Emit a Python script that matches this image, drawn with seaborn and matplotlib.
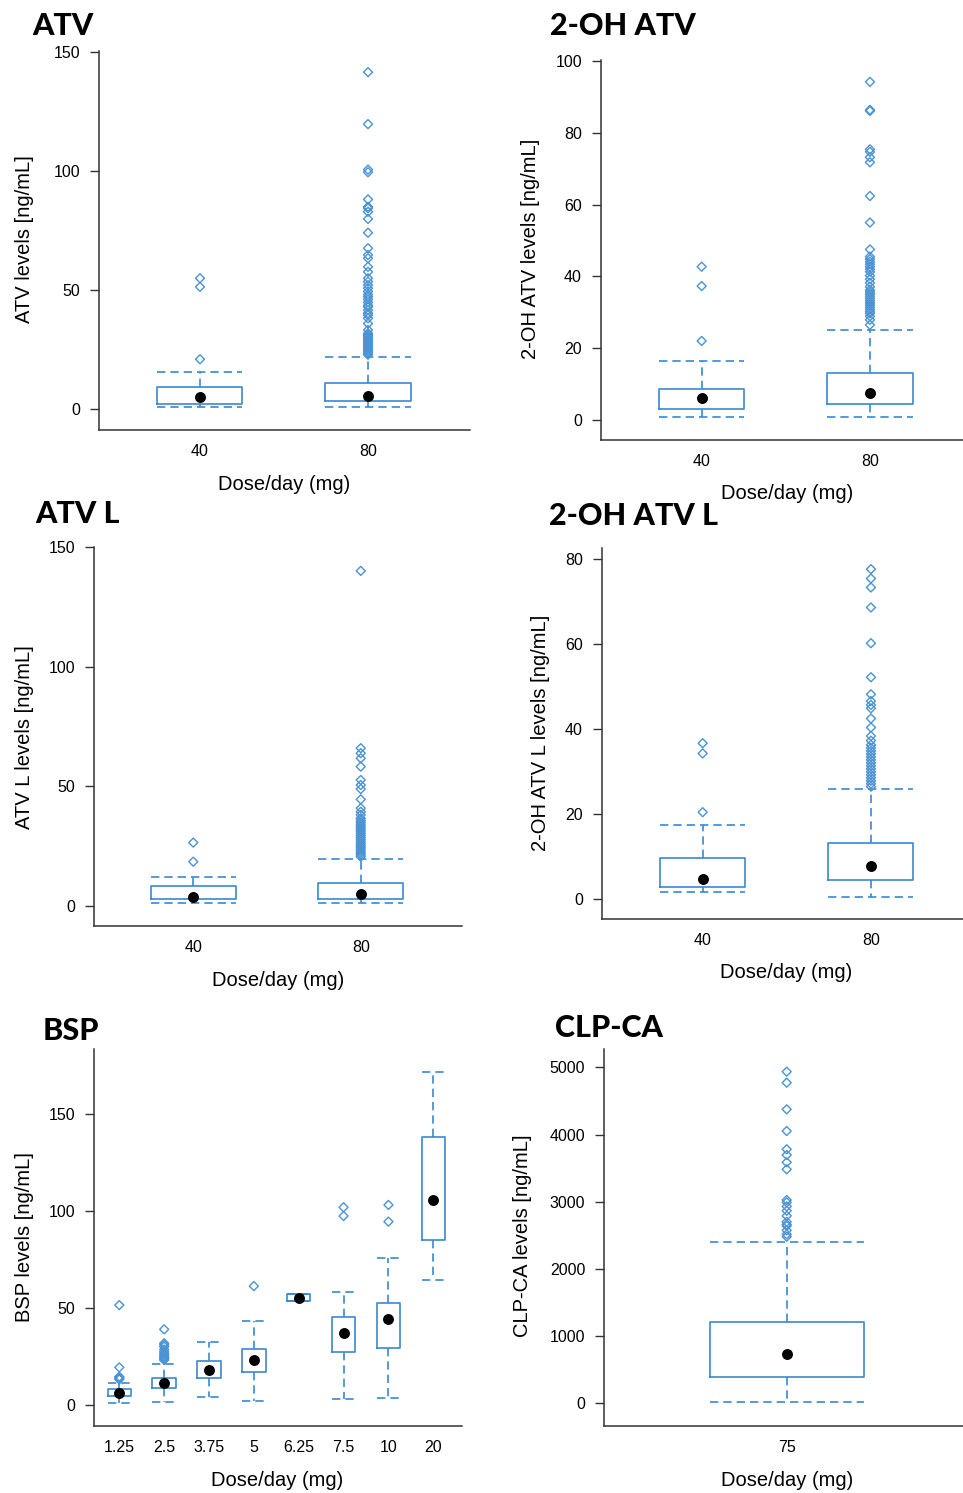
import numpy as np
import pandas as pd
import matplotlib
matplotlib.use('Agg')
import matplotlib.pyplot as plt
import seaborn as sns

W, H = 963, 1493
BOX_C = '#3a89cf'
OUT_C = '#4a93d4'
DASH = (0, (5, 3))

# ---- ATV ----
atv_doses = ['40', '80']
atv_q1 = [2.1, 3.4]
atv_med = [5.2, 5.6]
atv_q3 = [9.1, 10.8]
atv_lo = [0.7, 0.7]
atv_hi = [15.7, 22.0]
atv_out_40 = [20.9, 51.3, 54.9]
atv_out_80 = [141.4, 119.6, 100.5, 99.4, 88.0, 84.9, 84.3, 82.8, 79.8, 74.0, 67.5, 64.7,
              63.3, 59.7, 57.6, 54.9, 53.5, 52.0, 50.7, 49.3, 48.0, 47.1, 46.0, 44.8, 43.5,
              42.9, 41.5, 40.2, 39.4, 38.1, 35.9, 33.2, 31.8, 31.2, 30.6, 30.0, 29.4, 28.8,
              28.2, 27.6, 27.0, 26.4, 25.8, 25.2, 24.6, 24.0, 23.4, 22.8]

# ---- 2-OH ATV ----
ohatv_doses = ['40', '80']
ohatv_q1 = [3.0, 4.4]
ohatv_med = [6.2, 7.6]
ohatv_q3 = [8.6, 13.0]
ohatv_lo = [0.9, 0.75]
ohatv_hi = [16.4, 25.1]
ohatv_out_40 = [22.0, 37.3, 42.7]
ohatv_out_80 = [94.2, 86.4, 86.1, 75.4, 74.7, 73.2, 71.8, 62.4, 55.0, 47.5, 45.5, 44.8, 44.1,
                43.4, 42.7, 42.0, 41.3, 40.2, 39.2, 38.2, 37.1, 36.2, 35.6, 35.0, 34.4, 33.8,
                33.2, 32.6, 32.0, 31.4, 30.8, 30.2, 29.7, 28.9, 27.9, 26.5]

# ---- ATV L ----
atvl_doses = ['40', '80']
atvl_q1 = [2.8, 2.8]
atvl_med = [3.9, 5.0]
atvl_q3 = [8.5, 9.5]
atvl_lo = [1.1, 1.1]
atvl_hi = [12.3, 19.7]
atvl_out_40 = [18.5, 26.5]
atvl_out_80 = [140.2, 66.0, 63.9, 61.8, 58.3, 52.7, 50.6, 48.9, 44.6, 40.9, 39.4, 38.1, 36.7,
               35.8, 35.0, 34.2, 33.4, 32.6, 31.8, 31.0, 30.2, 29.4, 28.6, 27.8, 27.0, 26.2,
               25.4, 24.6, 23.8, 23.0, 22.2, 21.4, 20.6]

# ---- 2-OH ATV L ----
ohatvl_doses = ['40', '80']
ohatvl_q1 = [3.0, 4.5]
ohatvl_med = [4.9, 7.8]
ohatvl_q3 = [9.8, 13.3]
ohatvl_lo = [1.8, 0.6]
ohatvl_hi = [17.4, 25.9]
ohatvl_out_40 = [20.5, 34.3, 36.7]
ohatvl_out_80 = [77.6, 75.4, 73.3, 68.6, 60.2, 52.2, 48.2, 46.6, 45.7, 44.9, 42.5, 40.4, 38.4,
                 37.3, 36.3, 35.6, 34.9, 34.2, 33.5, 32.8, 32.1, 31.4, 30.7, 30.0, 29.3, 28.6,
                 27.9, 27.2, 26.5]

# ---- BSP ----
bsp_doses = ['1.25', '2.5', '3.75', '5', '6.25', '7.5', '10', '20']
bsp_q1 = [4.6, 8.6, 13.7, 17.2, 53.8, 27.5, 29.5, 85.1]
bsp_med = [6.4, 11.5, 18.0, 23.2, 55.3, 37.0, 44.2, 105.7]
bsp_q3 = [8.2, 13.7, 22.8, 28.7, 57.0, 45.2, 52.4, 138.0]
bsp_lo = [0.9, 1.4, 4.0, 2.1, 53.8, 2.9, 3.4, 64.4]
bsp_hi = [11.5, 21.1, 32.6, 43.3, 57.0, 58.4, 75.9, 171.5]
bsp_out = [[13.2, 13.7, 14.2, 14.6, 19.4, 51.5],
           [23.2, 23.8, 24.4, 25.0, 25.8, 26.6, 27.5, 28.6, 30.1, 31.0, 31.8, 39.0],
           [], [61.3], [], [97.4, 101.9], [94.5, 103.1], []]

# ---- CLP-CA ----
clp_doses = ['75']
clp_q1 = [391]
clp_med = [734]
clp_q3 = [1214]
clp_lo = [15]
clp_hi = [2405]
clp_out = [[4935, 4771, 4375, 4052, 3780, 3695, 3586, 3482, 3025, 2990, 2930, 2865, 2790,
            2700, 2660, 2640, 2575, 2515, 2480]]

sns.set_style('ticks')
plt.rcParams['font.family'] = ['Liberation Sans', 'DejaVu Sans']
plt.rcParams['text.color'] = 'black'

fig = plt.figure(figsize=(W / 100, H / 100), dpi=100)


def panel(rect, labels, q1, med, q3, lo, hi, outliers, xlim, ylim, yticks, width,
          title, title_xy, ylabel, ylabel_xy, xlabel_xy):
    l, t, r, b = rect
    ax = fig.add_axes([l / W, 1 - b / H, (r - l) / W, (b - t) / H])
    pos = np.arange(len(labels))
    stats = [dict(label=lab, med=m, q1=a, q3=c, whislo=lw, whishi=hw, fliers=[])
             for lab, a, m, c, lw, hw in zip(labels, q1, med, q3, lo, hi)]
    ax.bxp(stats, positions=pos, widths=width, capwidths=width, showfliers=False,
           boxprops=dict(color=BOX_C, lw=1.2),
           whiskerprops=dict(color=BOX_C, lw=1.2, ls=DASH),
           capprops=dict(color=BOX_C, lw=1.2, ls=DASH),
           medianprops=dict(ls='none'))
    ox, oy = [], []
    for i, vals in enumerate(outliers):
        ox += [i] * len(vals)
        oy += list(vals)
    out_df = pd.DataFrame({'x': ox, 'y': oy})
    sns.scatterplot(data=out_df, x='x', y='y', marker='D', s=21, facecolor='none',
                    edgecolor=OUT_C, linewidth=1.0, ax=ax, zorder=3)
    sns.scatterplot(x=pos, y=med, color='black', s=62, linewidth=0, ax=ax, zorder=4)
    ax.set_xlim(*xlim)
    ax.set_ylim(*ylim)
    ax.set_xticks(pos)
    ax.set_xticklabels(labels)
    ax.set_yticks(yticks)
    ax.set_xlabel('')
    ax.set_ylabel('')
    ax.tick_params(axis='x', length=0, pad=10, labelsize=11.5, colors='black')
    ax.tick_params(axis='y', length=6.5, width=1, pad=7, labelsize=11.5,
                   direction='out', color='#333333', labelcolor='black')
    sns.despine(ax=ax)
    for s in ['left', 'bottom']:
        ax.spines[s].set_color('#333333')
        ax.spines[s].set_linewidth(1.1)
    ax.patch.set_alpha(0)
    fig.text(title_xy[0] / W, 1 - title_xy[1] / H, title, fontsize=22, fontweight='black',
             family=['Lato', 'DejaVu Sans'], color='black', ha='left', va='baseline')
    fig.text(ylabel_xy[0] / W, 1 - ylabel_xy[1] / H, ylabel, rotation=90, fontsize=14.5,
             color='black', ha='center', va='center')
    fig.text(xlabel_xy[0] / W, 1 - xlabel_xy[1] / H, 'Dose/day (mg)', fontsize=14.5,
             color='black', ha='center', va='center')
    return ax


panel((99, 50.5, 470, 430), atv_doses, atv_q1, atv_med, atv_q3, atv_lo, atv_hi,
      [atv_out_40, atv_out_80], (-0.601, 1.607), (-8.8, 150.5), [0, 50, 100, 150], 0.506,
      'ATV', (32, 35), 'ATV levels [ng/mL]', (24, 239), (284, 485))

panel((600.7, 60, 963, 440), ohatv_doses, ohatv_q1, ohatv_med, ohatv_q3, ohatv_lo, ohatv_hi,
      [ohatv_out_40, ohatv_out_80], (-0.6, 1.553), (-5.6, 100.3), [0, 20, 40, 60, 80, 100],
      0.509, '2-OH ATV', (550, 35), '2-OH ATV levels [ng/mL]', (530, 249), (787, 494))

panel((94, 547, 461.7, 926), atvl_doses, atvl_q1, atvl_med, atvl_q3, atvl_lo, atvl_hi,
      [atvl_out_40, atvl_out_80], (-0.593, 1.603), (-8.4, 150.2), [0, 50, 100, 150], 0.508,
      'ATV L', (35, 523), 'ATV L levels [ng/mL]', (24, 737), (278, 981))

panel((601.7, 548.3, 963, 919), ohatvl_doses, ohatvl_q1, ohatvl_med, ohatvl_q3, ohatvl_lo,
      ohatvl_hi, [ohatvl_out_40, ohatvl_out_80], (-0.6, 1.547), (-4.6, 82.5),
      [0, 20, 40, 60, 80], 0.505, '2-OH ATV L', (549, 525), '2-OH ATV L levels [ng/mL]',
      (540, 733), (786, 972))

panel((94, 1049.3, 461.7, 1426), bsp_doses, bsp_q1, bsp_med, bsp_q3, bsp_lo, bsp_hi,
      bsp_out, (-0.564, 7.633), (-10.8, 183.3), [0, 50, 100, 150], 0.52,
      'BSP', (43, 1040), 'BSP levels [ng/mL]', (24, 1237), (277, 1480))

panel((604, 1049.3, 963, 1425.7), clp_doses, clp_q1, clp_med, clp_q3, clp_lo, clp_hi,
      clp_out, (-0.947, 0.914), (-333, 5268), [0, 1000, 2000, 3000, 4000, 5000], 0.8,
      'CLP-CA', (555, 1037), 'CLP-CA levels [ng/mL]', (522, 1236), (787, 1480))

fig.savefig('out.png', dpi=100)
